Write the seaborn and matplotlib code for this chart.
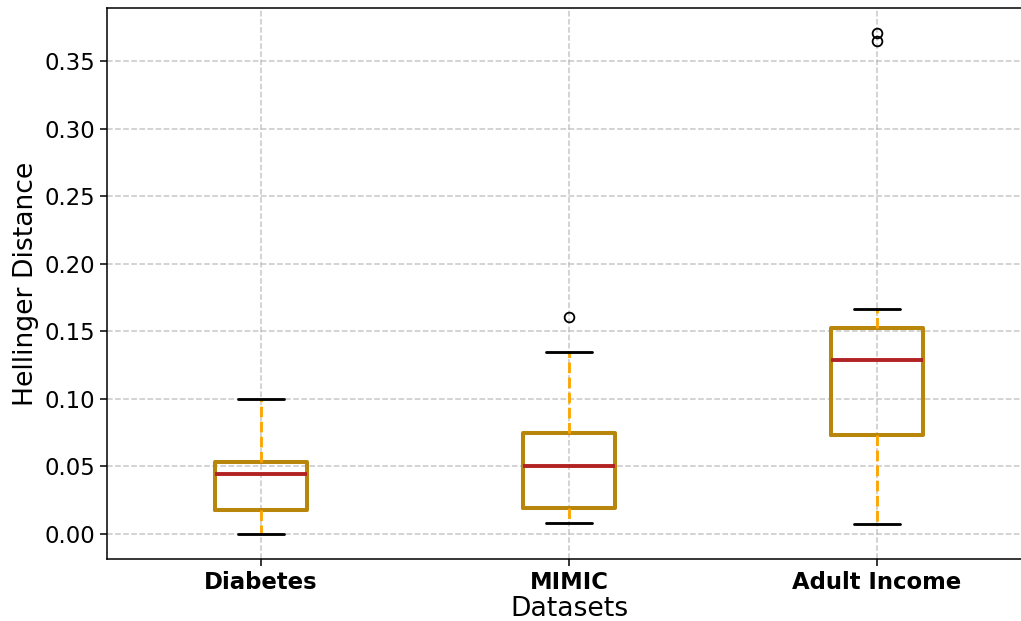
import matplotlib
matplotlib.use("Agg")
import matplotlib.pyplot as plt
import seaborn as sns
import pandas as pd

# values (quartiles, whisker ends, outliers)
diabetes = [0.000, 0.010, 0.018, 0.031, 0.0445, 0.048, 0.053, 0.072, 0.100]
mimic = [0.0084, 0.013, 0.0195, 0.035, 0.0504, 0.061, 0.0744, 0.1345, 0.1604]
adult = [0.0074, 0.030, 0.055, 0.0734, 0.090, 0.110, 0.129, 0.138, 0.146,
         0.1527, 0.1666, 0.3648, 0.3707]
datasets = ["Diabetes", "MIMIC", "Adult Income"]

df = pd.DataFrame({
    "Datasets": ["Diabetes"] * len(diabetes) + ["MIMIC"] * len(mimic)
                + ["Adult Income"] * len(adult),
    "Hellinger Distance": diabetes + mimic + adult,
})

sns.set_theme(style="ticks")
plt.rcParams["font.family"] = ["DejaVu Sans"]

fig, ax = plt.subplots(figsize=(10.21, 6.21), dpi=100)
# the right edge of the axes runs slightly past the picture (cropped original)
ax.set_position([107 / 1021, 1 - 559 / 621, 924 / 1021, 551 / 621])

sns.boxplot(data=df, x="Datasets", y="Hellinger Distance", order=datasets,
            width=0.3, fill=False, ax=ax,
            boxprops=dict(color="#B8860B", linewidth=2.9),
            medianprops=dict(color="#B22222", linewidth=2.8),
            whiskerprops=dict(color="orange", linewidth=2.05, linestyle="--"),
            capprops=dict(color="black", linewidth=2.05),
            flierprops=dict(marker="o", markerfacecolor="none",
                            markeredgecolor="black", markersize=7,
                            markeredgewidth=1.3))

ax.grid(True, linestyle="--", color="#b0b0b0", alpha=0.7, linewidth=1.1)
ax.set_axisbelow(True)
ax.set_xlim(-0.5, 2.5)
for sp in ax.spines.values():
    sp.set_color("black")
    sp.set_linewidth(1.1)

ax.tick_params(axis="both", labelsize=16.4, length=4.8, width=1.1,
               colors="black")
for lab in ax.get_xticklabels():
    lab.set_fontweight("bold")
ax.set_xlabel("Datasets", fontsize=19.2, labelpad=2, color="black")
ax.set_ylabel("Hellinger Distance", fontsize=19.2, color="black")

plt.savefig("out.png", dpi=100)
